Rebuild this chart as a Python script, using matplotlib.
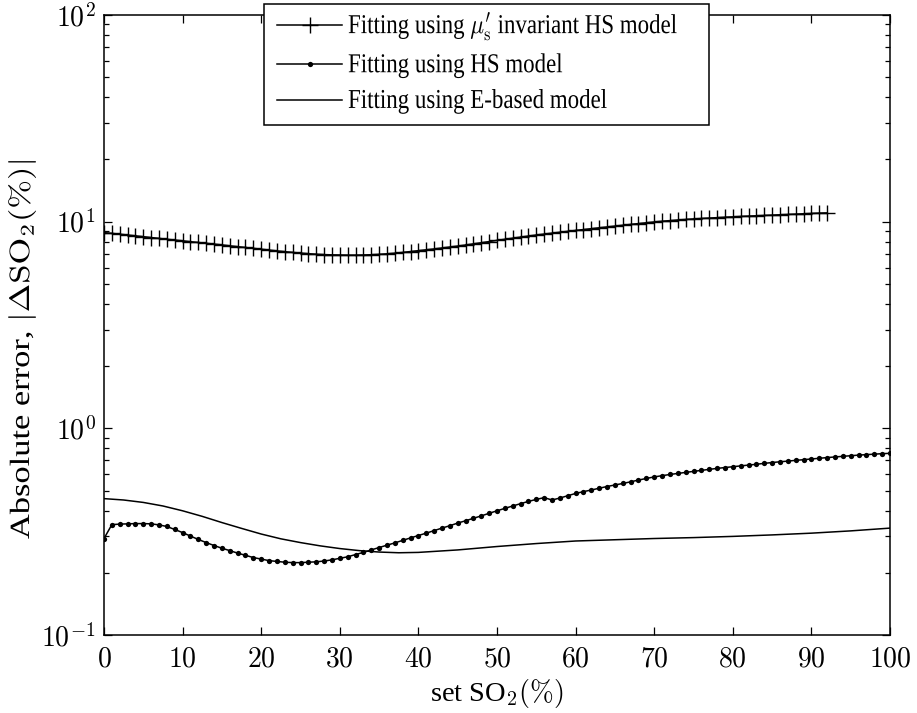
import numpy as np
import matplotlib
matplotlib.use("Agg")
import matplotlib.pyplot as plt
from matplotlib.ticker import FixedLocator, FuncFormatter, LogLocator, NullFormatter
from matplotlib.patheffects import AbstractPathEffect
from matplotlib.transforms import Affine2D
from matplotlib.patches import Rectangle

plt.rcParams["font.family"] = ["Liberation Serif", "DejaVu Serif"]
plt.rcParams["mathtext.fontset"] = "cm"

# set SO2 (%) for each fitting model
x_hs_inv = list(range(0, 93))
err_hs_inv = [
    8.85, 8.78, 8.70, 8.62, 8.54, 8.46, 8.38, 8.30, 8.22, 8.15,
    8.08, 8.00, 7.93, 7.86, 7.79, 7.72, 7.64, 7.57, 7.50, 7.43,
    7.36, 7.29, 7.22, 7.16, 7.10, 7.05, 7.00, 6.96, 6.93, 6.91,
    6.90, 6.89, 6.89, 6.90, 6.92, 6.95, 6.99, 7.04, 7.10, 7.17,
    7.24, 7.31, 7.38, 7.46, 7.54, 7.62, 7.71, 7.81, 7.91, 8.01,
    8.12, 8.22, 8.32, 8.42, 8.52, 8.62, 8.71, 8.80, 8.89, 8.98,
    9.07, 9.16, 9.25, 9.34, 9.43, 9.52, 9.61, 9.70, 9.79, 9.88,
    9.97, 10.05, 10.12, 10.19, 10.25, 10.31, 10.36, 10.41, 10.46, 10.51,
    10.55, 10.60, 10.64, 10.68, 10.72, 10.76, 10.80, 10.84, 10.88, 10.92,
    10.96, 11.00, 11.03,
]

x_hs = list(range(0, 101))
err_hs = [
    0.293, 0.342, 0.344, 0.345, 0.346, 0.346, 0.345, 0.341, 0.335, 0.324,
    0.313, 0.301, 0.290, 0.280, 0.271, 0.263, 0.256, 0.249, 0.243, 0.237,
    0.233, 0.229, 0.227, 0.225, 0.224, 0.224, 0.225, 0.226, 0.228, 0.231,
    0.235, 0.239, 0.245, 0.251, 0.258, 0.265, 0.272, 0.279, 0.287, 0.295,
    0.303, 0.311, 0.320, 0.329, 0.338, 0.348, 0.357, 0.367, 0.377, 0.388,
    0.399, 0.410, 0.421, 0.432, 0.443, 0.453, 0.462, 0.450, 0.460, 0.472,
    0.484, 0.494, 0.503, 0.513, 0.523, 0.532, 0.541, 0.551, 0.562, 0.572,
    0.582, 0.590, 0.598, 0.605, 0.612, 0.619, 0.626, 0.633, 0.640, 0.646,
    0.652, 0.658, 0.664, 0.670, 0.677, 0.683, 0.689, 0.694, 0.700, 0.705,
    0.711, 0.716, 0.722, 0.727, 0.732, 0.737, 0.742, 0.746, 0.750, 0.754,
    0.757,
]

x_e = [0, 2.5, 5, 7.5, 10, 12.5, 15, 17.5, 20, 22.5, 25, 27.5, 30, 32.5, 35,
       37.5, 40, 45, 50, 55, 60, 65, 70, 75, 80, 85, 90, 95, 100]
err_e = [0.457, 0.450, 0.438, 0.421, 0.399, 0.375, 0.350, 0.328, 0.308, 0.292,
         0.280, 0.270, 0.262, 0.256, 0.252, 0.250, 0.251, 0.258, 0.268, 0.277,
         0.285, 0.289, 0.293, 0.296, 0.300, 0.305, 0.311, 0.319, 0.329]

labels = [
    r"Fitting using $\mu^{\prime}_{\mathrm{s}}$ invariant HS model",
    "Fitting using HS model",
    "Fitting using E-based model",
]
x_ticks = list(range(0, 101, 10))


class VStretch(AbstractPathEffect):
    """Draw text taller than its nominal size, scaling glyphs vertically
    about a display-space y (or about the text baseline if none is given)."""

    def __init__(self, factor, y0=None):
        super().__init__()
        self.factor = factor
        self.y0 = y0

    def draw_path(self, renderer, gc, tpath, affine, rgbFace=None):
        _, yb = affine.transform((0, 0))
        yc = yb if self.y0 is None else self.y0
        st = Affine2D().translate(0, -yc).scale(1, self.factor).translate(0, yc)
        renderer.draw_path(gc, tpath, affine + st, rgbFace)


W, H = 917, 713
fig = plt.figure(figsize=(W / 100, H / 100), dpi=100)
ax = fig.add_axes([104 / W, 1 - 635 / H, 786 / W, 620 / H])

h1, = ax.plot(x_hs_inv, err_hs_inv, color="black", lw=1.1, marker="+",
              markersize=11, markeredgewidth=1.0)
h2, = ax.plot(x_hs, err_hs, color="black", lw=1.1, marker="o",
              markersize=3.8, markeredgewidth=0)
h3, = ax.plot(x_e, err_e, color="black", lw=1.1)

ax.set_yscale("log")
ax.set_xlim(0, 100)
ax.set_ylim(0.1, 100)

ax.xaxis.set_major_locator(FixedLocator(x_ticks))
ax.xaxis.set_major_formatter(FuncFormatter(lambda v, p: f"${v:.0f}$"))
ax.yaxis.set_major_locator(LogLocator(base=10, numticks=10))
ax.yaxis.set_minor_locator(LogLocator(base=10, subs=np.arange(2, 10), numticks=20))
ax.yaxis.set_minor_formatter(NullFormatter())
ax.yaxis.set_major_formatter(
    FuncFormatter(lambda v, p: f"$10^{{{int(round(np.log10(v)))}}}$"))

ax.tick_params(which="both", direction="in", top=True, right=True,
               width=0.9, labelsize=20)
ax.tick_params(which="major", length=6)
ax.tick_params(which="minor", length=3.5)
ax.tick_params(axis="x", pad=9)
ax.tick_params(axis="y", pad=6)
for s in ax.spines.values():
    s.set_linewidth(1.1)

ax.set_xlabel(r"set SO$_2(\%)$", fontsize=20.5, labelpad=3)

ylab_center = 349  # pixels from the top of the figure
ax.set_ylabel(r"Absolute error, $|\Delta\mathrm{SO}_2(\%)|$", fontsize=20)
ax.yaxis.set_label_coords(-0.084, (635 - ylab_center) / 620)
ax.yaxis.label.set_path_effects([VStretch(1.24, y0=H - ylab_center)])

# legend box (white, black edge) sitting over the top of the axes
box = Rectangle((264 / W, 1 - 125 / H), 445 / W, 121 / H,
                transform=fig.transFigure, facecolor="white",
                edgecolor="black", linewidth=1.1, zorder=4)
fig.add_artist(box)

leg = fig.legend([h1, h2, h3], labels, loc="upper left",
                 bbox_to_anchor=(277 / W, 1 - 13 / H),
                 fontsize=16.5, frameon=False,
                 handlelength=2.84, handletextpad=0.26, labelspacing=0.64,
                 borderpad=0, borderaxespad=0, numpoints=1)
leg.set_zorder(5)
for t in leg.get_texts():
    t.set_path_effects([VStretch(1.19)])

fig.savefig("out.png", dpi=100)
